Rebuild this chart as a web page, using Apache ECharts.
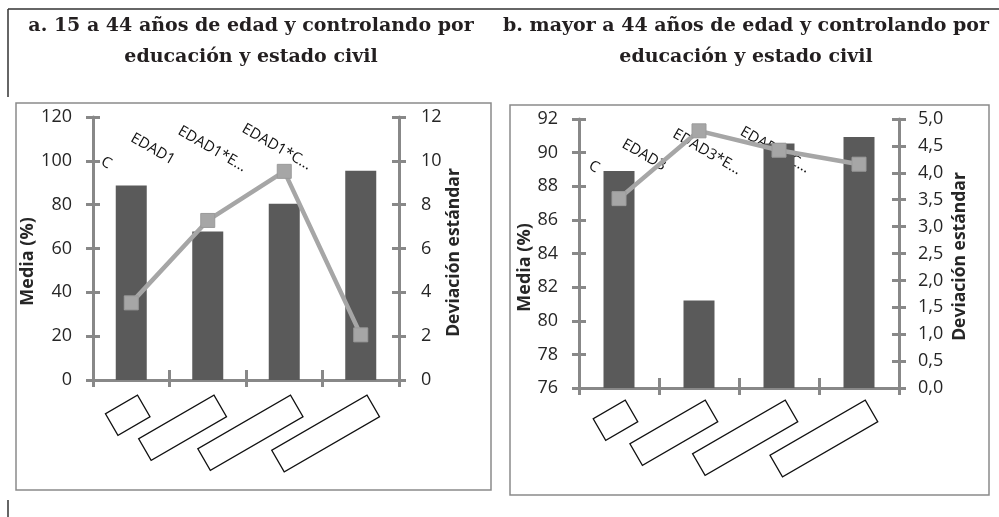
<!DOCTYPE html>
<html><head><meta charset="utf-8">
<script src="https://cdn.jsdelivr.net/npm/echarts@6/dist/echarts.min.js"></script>
<style>html,body{margin:0;padding:0;background:#fff}#c{width:999px;height:517px}</style>
</head><body><div id="c"></div>
<script>
// ---- data ----
const titleA = 'a. 15 a 44 años de edad y controlando por\neducación y estado civil';
const titleB = 'b. mayor a 44 años de edad y controlando por\neducación y estado civil';
const categoriesA = ['C', 'EDAD1', 'EDAD1*E…', 'EDAD1*C…'];
const categoriesB = ['C', 'EDAD3', 'EDAD3*E…', 'EDAD3*C…'];
const mediaA = [88.8, 67.8, 80.4, 95.5];
const desvA = [3.52, 7.28, 9.52, 2.06];
const mediaB = [88.9, 81.2, 90.55, 90.93];
const desvB = [3.52, 4.78, 4.42, 4.16];
const leftNameA = 'Media (%)';
const rightNameA = 'Deviación estándar';
const leftNameB = 'Media (%)';
const rightNameB = 'Deviación estándar';

// ---- styles ----
const AX = '#888888';
const TXT = '#262626';
const SANS = 'Open Sans';

function valAxis(o) {
  return {
    type: 'value', gridIndex: o.g, position: o.pos,
    min: o.min, max: o.max, interval: o.int,
    name: o.name || '', nameLocation: 'middle', nameGap: o.gap || 0, nameRotate: 90,
    nameTextStyle: { fontFamily: SANS, fontWeight: 'bold', fontSize: o.nsize || 18, color: TXT, padding: o.npad || 0 },
    axisLine: { show: !o.hide, lineStyle: { color: AX, width: 3 } },
    axisTick: { show: true, inside: !!o.inside, length: 7, lineStyle: { color: AX, width: 3 } },
    axisLabel: { show: !o.hide, margin: o.margin || 20, fontFamily: SANS, fontSize: 18, color: TXT,
      formatter: o.fmt || (v => String(v)) },
    splitLine: { show: false }
  };
}
function catAxis(g, data, inside) {
  return {
    type: 'category', gridIndex: g, data: data, position: 'bottom',
    axisLine: { show: !inside, lineStyle: { color: AX, width: 3 } },
    axisTick: { show: true, interval: 0, inside: inside, length: inside ? 10 : 7, lineStyle: { color: AX, width: 3 } },
    axisLabel: { show: false, interval: 0 },
    splitLine: { show: false }
  };
}
const comma = v => v.toFixed(1).replace('.', ',');

const chart = echarts.init(document.getElementById('c'), null, { renderer: 'canvas' });
chart.setOption({
  animation: false,
  backgroundColor: '#fff',
  grid: [
    { left: 93, right: 600, top: 117, bottom: 137 },
    { left: 579, right: 100, top: 119, bottom: 129 }
  ],
  xAxis: [
    catAxis(0, categoriesA, false), catAxis(0, categoriesA, true),
    catAxis(1, categoriesB, false), catAxis(1, categoriesB, true)
  ],
  yAxis: [
    valAxis({ g: 0, pos: 'left', min: 0, max: 120, int: 20, name: leftNameA, gap: 44, margin: 21, npad: [0, 26, 0, 0] }),
    valAxis({ g: 0, pos: 'right', min: 0, max: 12, int: 2, name: rightNameA, nsize: 17.5, gap: 46, margin: 22, npad: [0, 8, 0, 0] }),
    valAxis({ g: 0, pos: 'left', min: 0, max: 120, int: 20, hide: true, inside: true }),
    valAxis({ g: 0, pos: 'right', min: 0, max: 12, int: 2, hide: true, inside: true }),
    valAxis({ g: 1, pos: 'left', min: 76, max: 92, int: 2, name: leftNameB, gap: 40, margin: 21, npad: [0, 28, 0, 0] }),
    valAxis({ g: 1, pos: 'right', min: 0, max: 5, int: 0.5, name: rightNameB, nsize: 17.5, gap: 52, margin: 19, npad: [0, 6, 0, 0], fmt: comma }),
    valAxis({ g: 1, pos: 'left', min: 76, max: 92, int: 2, hide: true, inside: true }),
    valAxis({ g: 1, pos: 'right', min: 0, max: 5, int: 0.5, hide: true, inside: true })
  ],
  series: [
    { type: 'bar', xAxisIndex: 0, yAxisIndex: 0, data: mediaA, barWidth: 31, itemStyle: { color: '#5a5a5a' }, z: 2 },
    { type: 'line', xAxisIndex: 0, yAxisIndex: 1, data: desvA, symbol: 'rect', symbolSize: 14,
      lineStyle: { color: '#a6a6a6', width: 4.5 }, itemStyle: { color: '#a6a6a6', borderColor: '#9a9a9a', borderWidth: 1 }, z: 3 },
    { type: 'bar', xAxisIndex: 2, yAxisIndex: 4, data: mediaB, barWidth: 31, itemStyle: { color: '#5a5a5a' }, z: 2 },
    { type: 'line', xAxisIndex: 2, yAxisIndex: 5, data: desvB, symbol: 'rect', symbolSize: 14,
      lineStyle: { color: '#a6a6a6', width: 4.5 }, itemStyle: { color: '#a6a6a6', borderColor: '#9a9a9a', borderWidth: 1 }, z: 3 }
  ]
});

// ---- decorations: titles, frames, rotated category names and label boxes ----
const g = [];
g.push({ type: 'line', shape: { x1: 8, y1: 9, x2: 999, y2: 9 }, style: { stroke: '#333', lineWidth: 1.5 } });
g.push({ type: 'line', shape: { x1: 8, y1: 9, x2: 8, y2: 97 }, style: { stroke: '#333', lineWidth: 1.5 } });
g.push({ type: 'line', shape: { x1: 8, y1: 500, x2: 8, y2: 517 }, style: { stroke: '#333', lineWidth: 1.5 } });
g.push({ type: 'rect', shape: { x: 16, y: 103, width: 475, height: 387 }, style: { fill: 'none', stroke: '#8a8a8a', lineWidth: 1.5 }, z: -1 });
g.push({ type: 'rect', shape: { x: 510, y: 105, width: 479, height: 390 }, style: { fill: 'none', stroke: '#8a8a8a', lineWidth: 1.5 }, z: -1 });
const titleStyle = { textAlign: 'center', textVerticalAlign: 'top', fontFamily: 'DejaVu Serif', fontWeight: 'bold', fontSize: 19, lineHeight: 31, fill: '#231f20' };
g.push({ type: 'text', x: 251, y: 11, style: Object.assign({ text: titleA }, titleStyle) });
g.push({ type: 'text', x: 746, y: 11, style: Object.assign({ text: titleB }, titleStyle) });

const nameDx = [-25, -55, -72, -84];
const nameYA = [163, 149, 149, 147];
const nameYB = [167, 155, 152, 150];
const boxW = [37, 87, 107, 110];
function panel(xIdx, yIdx, cats, ny, yMin, boxDy) {
  const axisY = chart.convertToPixel({ yAxisIndex: yIdx }, yMin);
  cats.forEach((c, i) => {
    const cx = chart.convertToPixel({ xAxisIndex: xIdx }, i);
    g.push({ type: 'text', x: cx + nameDx[i], y: ny[i], rotation: -Math.PI / 6,
      style: { text: c, textAlign: 'center', textVerticalAlign: 'middle', fontFamily: SANS, fontSize: 15, fill: '#111' } });
    g.push({ type: 'rect', x: cx + 12.5, y: axisY + boxDy, rotation: Math.PI / 6,
      shape: { x: -boxW[i], y: -12.5, width: boxW[i], height: 25 },
      style: { fill: 'none', stroke: '#111', lineWidth: 1.3 } });
  });
}
panel(0, 0, categoriesA, nameYA, 0, 26);
panel(2, 4, categoriesB, nameYB, 76, 23);
chart.setOption({ graphic: g });
</script>
</body></html>
